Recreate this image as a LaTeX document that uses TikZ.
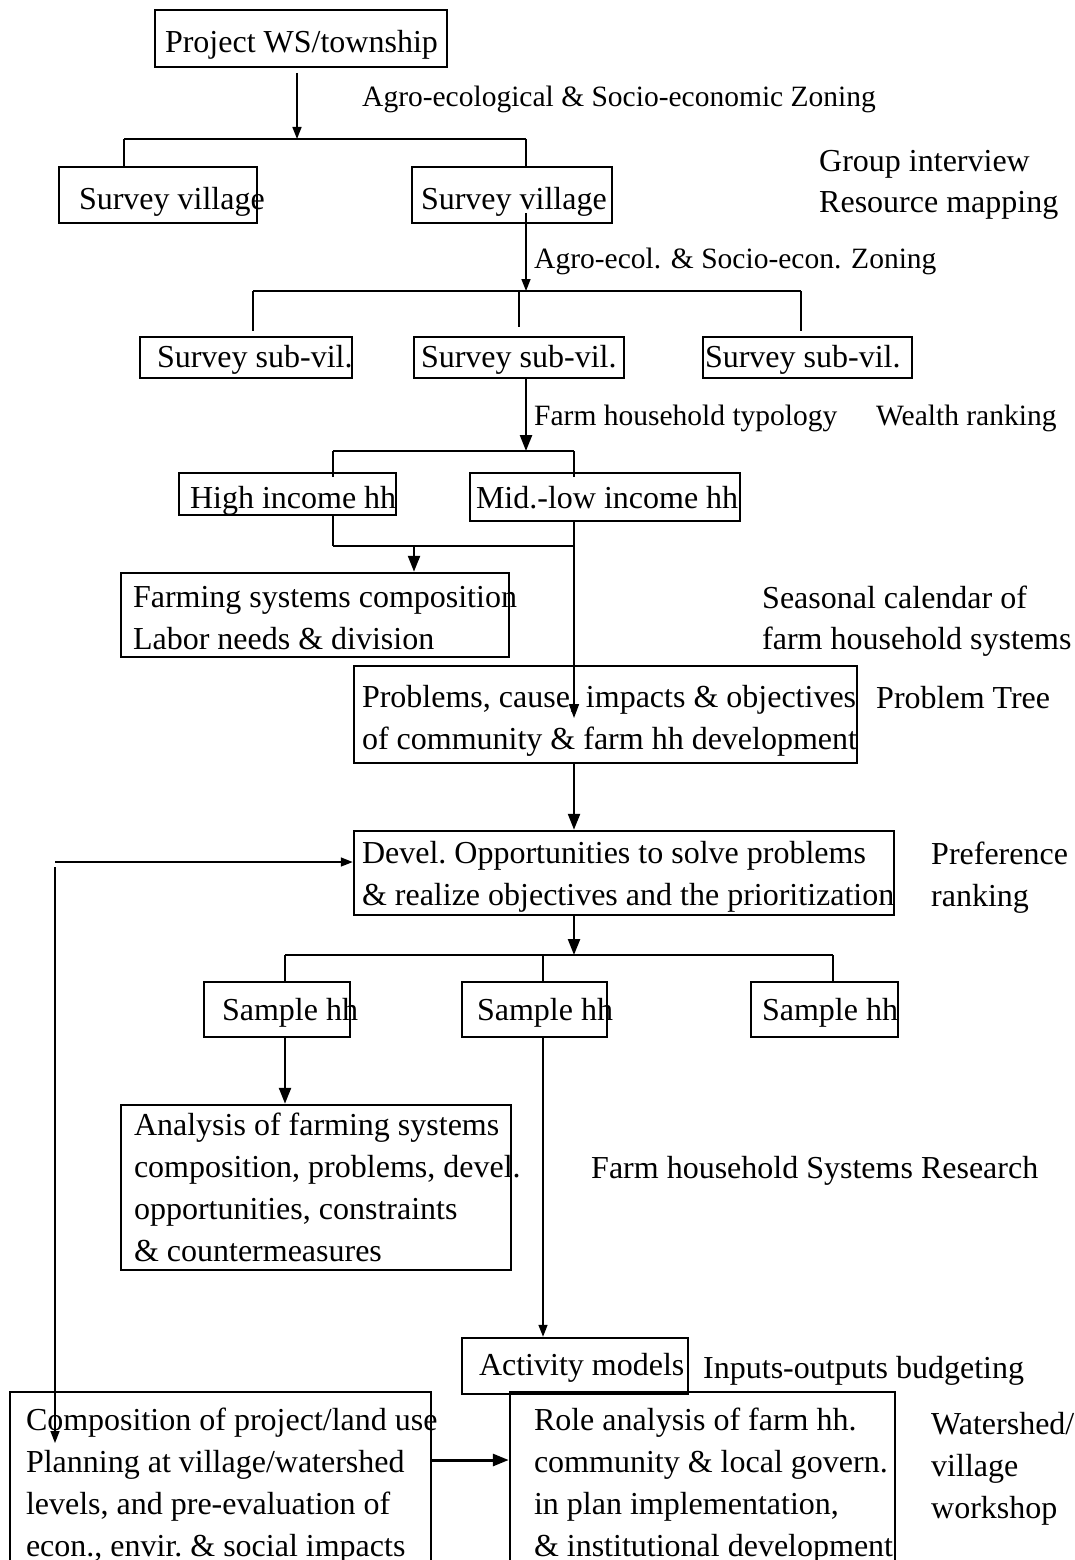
\documentclass[tikz,border=0pt]{standalone}
\usepackage{fontspec}
\setmainfont{Liberation Serif}
\usetikzlibrary{arrows.meta}
\newcommand{\bxline}[2][0pt]{\raisebox{0pt}[\dimexpr 22pt+#1*2\relax][7pt]{\frenchspacing\spaceskip=0pt\xspaceskip=0pt #2}}
\begin{document}
\begin{tikzpicture}[x=1pt,y=-1pt,
  bx/.style={draw, line width=2.5pt, inner ysep=0pt, align=left, font=\fontsize{32}{42}\selectfont},
  lbl/.style={anchor=base west, inner sep=0pt, font=\fontsize{32}{42}\selectfont},
  slbl/.style={anchor=base west, inner sep=0pt, font=\fontsize{29.5}{40}\selectfont},
  ln/.style={line width=1.6pt},
  bar/.style={line width=2.6pt},
  arrs/.style={line width=1.6pt, -{Triangle[length=12pt,width=9pt]}},
  arr/.style={line width=2.4pt, -{Triangle[length=16pt,width=12pt]}},
]
\useasboundingbox (0,0) rectangle (1074,1560);
\clip (0,0) rectangle (1074,1560);

% ---------- boxes ----------
\node[bx, align=center, minimum width=292pt, minimum height=57pt, inner xsep=10pt, text width=272pt] (pws) at (301,38.5) {\bxline[7pt]{Project WS/township}};
\node[bx, minimum width=198pt, minimum height=56pt, inner xsep=20pt, text width=158pt] (v1) at (158,195) {\bxline[6.5pt]{Survey village}};
\node[bx, minimum width=200pt, minimum height=56pt, inner xsep=9pt, text width=182pt] (v2) at (512,195) {\bxline[6.5pt]{Survey village}};
\node[bx, minimum width=212pt, minimum height=41pt, inner xsep=17pt, text width=178pt] (s1) at (246,357.5) {\bxline[2pt]{Survey sub-vil.}};
\node[bx, minimum width=210pt, minimum height=41pt, inner xsep=7pt, text width=196pt] (s2) at (519,357.5) {\bxline[2pt]{Survey sub-vil.}};
\node[bx, minimum width=209pt, minimum height=41pt, inner xsep=2pt, text width=205pt] (s3) at (807.5,357.5) {\bxline[2pt]{Survey sub-vil.}};
\node[bx, minimum width=217pt, minimum height=42pt, inner xsep=11pt, text width=195pt] (hi) at (287.5,494) {\bxline[6.5pt]{High income hh}};
\node[bx, minimum width=270pt, minimum height=48pt, inner xsep=6pt, text width=258pt] (ml) at (605,497) {\bxline[3.5pt]{Mid.-low income hh}};
\node[bx, minimum width=388pt, minimum height=84pt, inner xsep=12pt, text width=364pt] (farm) at (315,615) {\bxline[5.5pt]{Farming systems composition}\\\bxline[5.5pt]{Labor needs \& division}};
\node[bx, minimum width=503pt, minimum height=97pt, inner xsep=8pt, text width=487pt] (prob) at (605.5,714.5) {\bxline[6pt]{Problems, cause, impacts \& objectives}\\\bxline[6pt]{of community \& farm hh development}};
\node[bx, minimum width=540pt, minimum height=84pt, inner xsep=8pt, text width=524pt] (devel) at (624,873) {\bxline[3.5pt]{Devel. Opportunities to solve problems}\\\bxline[3.5pt]{\& realize objectives and the prioritization}};
\node[bx, minimum width=146pt, minimum height=55pt, inner xsep=18pt, text width=110pt] (sh1) at (277,1009.5) {\bxline[3pt]{Sample hh}};
\node[bx, minimum width=145pt, minimum height=55pt, inner xsep=15pt, text width=115pt] (sh2) at (534.5,1009.5) {\bxline[3pt]{Sample hh}};
\node[bx, minimum width=147pt, minimum height=55pt, inner xsep=11pt, text width=125pt] (sh3) at (824.5,1009.5) {\bxline[3pt]{Sample hh}};
\node[bx, minimum width=390pt, minimum height=165pt, inner xsep=13pt, text width=364pt] (anal) at (316,1187.5) {\bxline[3pt]{Analysis of farming systems}\\\bxline[3pt]{composition, problems, devel.}\\\bxline[3pt]{opportunities, constraints}\\\bxline[3pt]{\& countermeasures}};
\node[bx, minimum width=226pt, minimum height=56pt, inner xsep=17pt, text width=192pt] (act) at (575,1366) {\bxline[1.5pt]{Activity models}};
\node[bx, minimum width=421pt, minimum height=186pt, inner xsep=16pt, text width=389pt] (comp) at (220.5,1485) {\bxline[0.5pt]{Composition of project/land use}\\\bxline[0.5pt]{Planning at village/watershed}\\\bxline[0.5pt]{levels, and pre-evaluation of}\\\bxline[0.5pt]{econ., envir. \& social impacts}};
\node[bx, minimum width=385pt, minimum height=186pt, inner xsep=24pt, text width=337pt] (role) at (702.5,1485) {\bxline[0.5pt]{Role analysis of farm hh.}\\\bxline[0.5pt]{community \& local govern.}\\\bxline[0.5pt]{in plan implementation,}\\\bxline[0.5pt]{\& institutional development}};

% ---------- side labels ----------
\node[slbl] (l1) at (362,107) {Agro-ecological \& Socio-economic Zoning};
\node[lbl] (l2) at (819,171) {Group interview};
\node[lbl] (l3) at (819,212) {Resource mapping};
\node[slbl] (l4) at (534,268) {Agro-ecol. \& Socio-econ. Zoning};
\node[slbl] (l5) at (534,425) {Farm household typology};
\node[slbl] (l6) at (876,425) {Wealth ranking};
\node[lbl] (l7) at (762,608) {Seasonal calendar of};
\node[lbl] (l8) at (762,649) {farm household systems};
\node[lbl] (l9) at (876,708) {Problem Tree};
\node[lbl] (l10) at (931,864) {Preference};
\node[lbl] (l11) at (931,906) {ranking};
\node[lbl] (l12) at (591,1178) {Farm household Systems Research};
\node[lbl] (l13) at (703,1378) {Inputs-outputs budgeting};
\node[lbl] (l14) at (931,1434) {Watershed/};
\node[lbl] (l15) at (931,1476) {village};
\node[lbl] (l16) at (931,1518) {workshop};

% ---------- junction coordinates ----------
\coordinate (a1s) at (297,73);
\coordinate (b1m) at (297,139);
\coordinate (b1l) at (124,139);
\coordinate (b1r) at (526,139);
\coordinate (a2s) at (526,213);
\coordinate (b2l) at (253,291);
\coordinate (b2c) at (519,291);
\coordinate (b2r) at (801,291);
\coordinate (b2m) at (526,291);
\coordinate (b3l) at (333,451);
\coordinate (b3r) at (574,451);
\coordinate (b3m) at (526,451);
\coordinate (j1) at (333,546);
\coordinate (j2) at (574,546);
\coordinate (j3) at (414,546);
\coordinate (pin) at (574,718);
\coordinate (b4l) at (285,955);
\coordinate (b4c) at (543,955);
\coordinate (b4r) at (833,955);
\coordinate (b4m) at (574,955);
\coordinate (fbA) at (55,862);
\coordinate (fbB) at (55,867);
\coordinate (fbC) at (55,1443);

% ---------- connectors ----------
\draw[arrs] (a1s) -- (b1m);
\draw[bar] (b1l) -- (b1r);
\draw[ln] (b1l) -- (b1l |- v1.north);
\draw[ln] (b1r) -- (b1r |- v2.north);

\draw[arrs] (a2s) -- (b2m);
\draw[bar] (b2l) -- (b2r);
\draw[ln, shorten >=5pt] (b2l) -- (b2l |- s1.north);
\draw[ln, shorten >=9pt] (b2c) -- (b2c |- s2.north);
\draw[ln, shorten >=5pt] (b2r) -- (b2r |- s3.north);

\draw[arr] (b3m |- s2.south) -- (b3m);
\draw[bar] (b3l) -- (b3r);
\draw[ln, shorten >=-5pt] (b3l) -- (b3l |- hi.north);
\draw[ln, shorten >=-5pt] (b3r) -- (b3r |- ml.north);
\draw[ln] (b3l |- hi.south) -- (j1);
\draw[bar] (j1) -- (j2);
\draw[arr] (j3) -- (j3 |- farm.north);
\draw[ln, -{Triangle[length=14pt,width=10pt]}] (b3r |- ml.south) -- (pin);

\draw[arr] (b3r |- prob.south) -- (b3r |- devel.north);
\draw[arr] (b3r |- devel.south) -- (b4m);
\draw[bar] (b4l) -- (b4r);
\draw[ln] (b4l) -- (b4l |- sh1.north);
\draw[ln] (b4c) -- (b4c |- sh2.north);
\draw[ln] (b4r) -- (b4r |- sh3.north);
\draw[arr] (b4l |- sh1.south) -- (b4l |- anal.north);
\draw[arrs] (b4c |- sh2.south) -- (b4c |- act.north);
\draw[arr, line width=3pt] ([yshift=25pt]comp.east) -- ([yshift=25pt]role.west);

\draw[arrs] (fbA) -- (fbA -| devel.west);
\draw[arrs] (fbB) -- (fbC);
\end{tikzpicture}
\end{document}
